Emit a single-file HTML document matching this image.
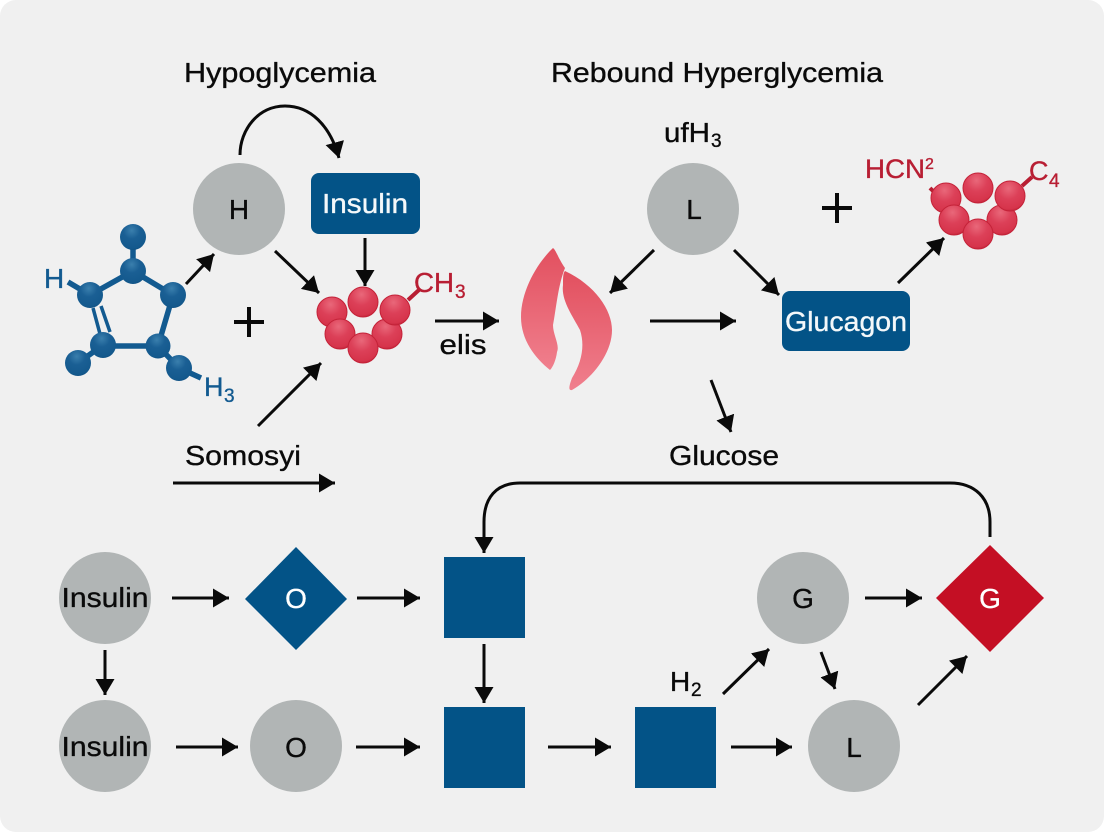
<!DOCTYPE html>
<html><head><meta charset="utf-8"><style>
html,body{margin:0;padding:0;background:#fff;width:1104px;height:832px;overflow:hidden}
svg{display:block}
text{font-family:"Liberation Sans",sans-serif;stroke:currentColor;stroke-width:.35px}
</style></head><body>
<svg width="1104" height="832" viewBox="0 0 1104 832" xmlns="http://www.w3.org/2000/svg">
<defs>
<marker id="a" markerUnits="userSpaceOnUse" markerWidth="18" markerHeight="20" refX="16" refY="9.5" orient="auto"><path d="M0 0L16 9.5L0 19Z" fill="#0a0a0a"/></marker>
<radialGradient id="b" cx=".45" cy=".25" r=".8"><stop offset="0" stop-color="#3a7fad"/><stop offset=".4" stop-color="#1a5f94"/><stop offset=".85" stop-color="#14598d"/><stop offset="1" stop-color="#0d4d7f"/></radialGradient>
<radialGradient id="r" cx=".45" cy=".25" r=".8"><stop offset="0" stop-color="#e9687a"/><stop offset=".45" stop-color="#dc4058"/><stop offset=".85" stop-color="#d6344b"/><stop offset="1" stop-color="#b81c32"/></radialGradient>
<linearGradient id="p" x1="0" y1="0" x2="0" y2="1"><stop offset="0" stop-color="#e2505f"/><stop offset="1" stop-color="#f07f8d"/></linearGradient>
</defs>
<rect width="1104" height="832" rx="16" fill="#f0f0f0"/>

<!-- headings -->
<g font-size="28" fill="#0a0a0a" color="#0a0a0a">
<text x="280" y="82" text-anchor="middle" textLength="192" lengthAdjust="spacingAndGlyphs">Hypoglycemia</text>
<text x="717" y="82" text-anchor="middle" textLength="332" lengthAdjust="spacingAndGlyphs">Rebound Hyperglycemia</text>
<text x="664" y="142" textLength="46" lengthAdjust="spacingAndGlyphs">ufH</text><text x="711" y="147" font-size="19">3</text>
<text x="243" y="465" text-anchor="middle" textLength="116" lengthAdjust="spacingAndGlyphs">Somosyi</text>
<text x="724" y="465" text-anchor="middle" textLength="110" lengthAdjust="spacingAndGlyphs">Glucose</text>
<text x="463" y="354" text-anchor="middle" textLength="47" lengthAdjust="spacingAndGlyphs">elis</text>
<text x="670" y="691">H</text><text x="691" y="696" font-size="19">2</text>
</g>

<!-- molecule blue -->
<g stroke="#125a90" fill="none">
<path d="M133 237V271M133 271L90 295M133 271L173 295M173 295L158 346M158 346H103M78 363L103 345M158 346L179 368M179 368L201 378M90 295L68 282" stroke-width="5.5"/>
<path d="M93 308L103 345M101 306L110 332" stroke-width="3.5"/>
</g>
<g fill="url(#b)"><circle cx="133" cy="237" r="13"/><circle cx="133" cy="271" r="13"/><circle cx="173" cy="295" r="13"/><circle cx="90" cy="295" r="13"/><circle cx="103" cy="345" r="13"/><circle cx="158" cy="346" r="12.5"/><circle cx="78" cy="363" r="13"/><circle cx="179" cy="368" r="13"/></g>
<text x="44" y="288" font-size="28" fill="#125a90" color="#125a90">H</text>
<text x="204" y="396" font-size="27" fill="#125a90" color="#125a90">H</text><text x="224" y="402" font-size="19" fill="#125a90" color="#125a90">3</text>

<!-- red cluster 1 -->
<path d="M408 300L420 289" stroke="#b81e33" stroke-width="4"/>
<g fill="url(#r)" stroke="#c42238" stroke-width="1"><circle cx="332" cy="312" r="15"/><circle cx="387" cy="334" r="15"/><circle cx="340" cy="334" r="15"/><circle cx="363" cy="348" r="15"/><circle cx="363" cy="302" r="15"/><circle cx="395" cy="310" r="15"/></g>
<text x="414" y="292" font-size="28" fill="#b81e33" color="#b81e33" textLength="40" lengthAdjust="spacingAndGlyphs">CH</text><text x="455" y="298" font-size="19" fill="#b81e33" color="#b81e33">3</text>

<!-- red cluster 2 -->
<path d="M930 188L936 194M1022 186L1032 177" stroke="#b81e33" stroke-width="4"/>
<g fill="url(#r)" stroke="#c42238" stroke-width="1"><circle cx="946" cy="198" r="15"/><circle cx="1002" cy="220" r="15"/><circle cx="954" cy="220" r="15"/><circle cx="978" cy="234" r="15"/><circle cx="978" cy="188" r="15"/><circle cx="1010" cy="196" r="15"/></g>
<text x="865" y="178" font-size="27" fill="#b81e33" color="#b81e33" textLength="60" lengthAdjust="spacingAndGlyphs">HCN</text><text x="925" y="169" font-size="16" fill="#b81e33" color="#b81e33">2</text>
<text x="1029" y="180" font-size="27" fill="#b81e33" color="#b81e33">C</text><text x="1049" y="187" font-size="19" fill="#b81e33" color="#b81e33">4</text>

<!-- pancreas -->
<path d="M553 248C556 250 558 258 565 268C558 285 556 310 553 325C553 335 560 345 557 352C556 360 553 367 550 370C535 358 521 340 521 317C521 290 538 262 553 248Z" fill="url(#p)"/>
<path d="M565 271C595 285 612 310 612 330C612 355 590 380 572 390C568 391 569 386 572 378C582 362 585 345 580 330C572 315 561 300 563 285C563 278 563 273 565 271Z" fill="url(#p)"/>

<!-- top shapes -->
<circle cx="239" cy="209" r="46" fill="#b1b5b5"/>
<text x="239" y="219" font-size="28" fill="#0a0a0a" color="#0a0a0a" text-anchor="middle">H</text>
<circle cx="693" cy="209" r="46" fill="#b1b5b5"/>
<text x="694" y="219" font-size="28" fill="#0a0a0a" color="#0a0a0a" text-anchor="middle">L</text>
<rect x="311" y="173" width="109" height="61" rx="8" fill="#035387"/>
<text x="365" y="213" font-size="28" fill="#f4f8fa" color="#f4f8fa" text-anchor="middle" textLength="86" lengthAdjust="spacingAndGlyphs">Insulin</text>
<rect x="782" y="291" width="128" height="60" rx="8" fill="#035387"/>
<text x="846" y="331" font-size="28" fill="#f4f8fa" color="#f4f8fa" text-anchor="middle" textLength="122" lengthAdjust="spacingAndGlyphs">Glucagon</text>

<!-- plus -->
<path d="M234 322H264M249 307V337M822 208H852M837 193V223" stroke="#0a0a0a" stroke-width="4"/>

<!-- bottom shapes -->
<circle cx="105" cy="598" r="46" fill="#b1b5b5"/><circle cx="105" cy="746" r="46" fill="#b1b5b5"/>
<circle cx="296" cy="746" r="46" fill="#b1b5b5"/><circle cx="803" cy="598" r="46" fill="#b1b5b5"/><circle cx="854" cy="746" r="46" fill="#b1b5b5"/>
<path d="M296 547L347 599L296 650L245 599Z" fill="#035387"/>
<rect x="444" y="557" width="81" height="81" fill="#035387"/><rect x="444" y="707" width="81" height="81" fill="#035387"/><rect x="635" y="707" width="81" height="81" fill="#035387"/>
<path d="M990 545L1044 598L990 652L936 598Z" fill="#c40f24"/>
<g font-size="28" text-anchor="middle" fill="#0a0a0a" color="#0a0a0a">
<text x="105" y="607" textLength="87" lengthAdjust="spacingAndGlyphs">Insulin</text>
<text x="105" y="756" textLength="87" lengthAdjust="spacingAndGlyphs">Insulin</text>
<text x="296" y="757">O</text><text x="803" y="608">G</text><text x="854" y="757">L</text>
<text x="296" y="608" fill="#fff" color="#fff">O</text><text x="990" y="608" fill="#fff" color="#fff">G</text>
</g>

<!-- arrows -->
<g fill="none" stroke="#0a0a0a" stroke-width="3" marker-end="url(#a)">
<path d="M240 155C240 130 258 106 285 106C310 106 330 125 339 158"/>
<path d="M186 284L214 254"/>
<path d="M275 251L319 293"/>
<path d="M365 238V286"/>
<path d="M258 426L321 363"/>
<path d="M435 321H499"/>
<path d="M654 250L610 293"/>
<path d="M734 250L779 295"/>
<path d="M650 321H736"/>
<path d="M898 283L944 238"/>
<path d="M711 380L731 432"/>
<path d="M173 483H335"/>
<path d="M990 537V522C990 498 975 483 950 483H520C496 483 484 498 484 522V553"/>
<path d="M172 598H229"/>
<path d="M357 598H420"/>
<path d="M105 650V695"/>
<path d="M176 747H238"/>
<path d="M356 747H420"/>
<path d="M484 644V703"/>
<path d="M548 747H611"/>
<path d="M731 747H792"/>
<path d="M723 694L769 649"/>
<path d="M821 652L835 689"/>
<path d="M865 598H922"/>
<path d="M918 705L967 656"/>
</g>
</svg>
</body></html>
